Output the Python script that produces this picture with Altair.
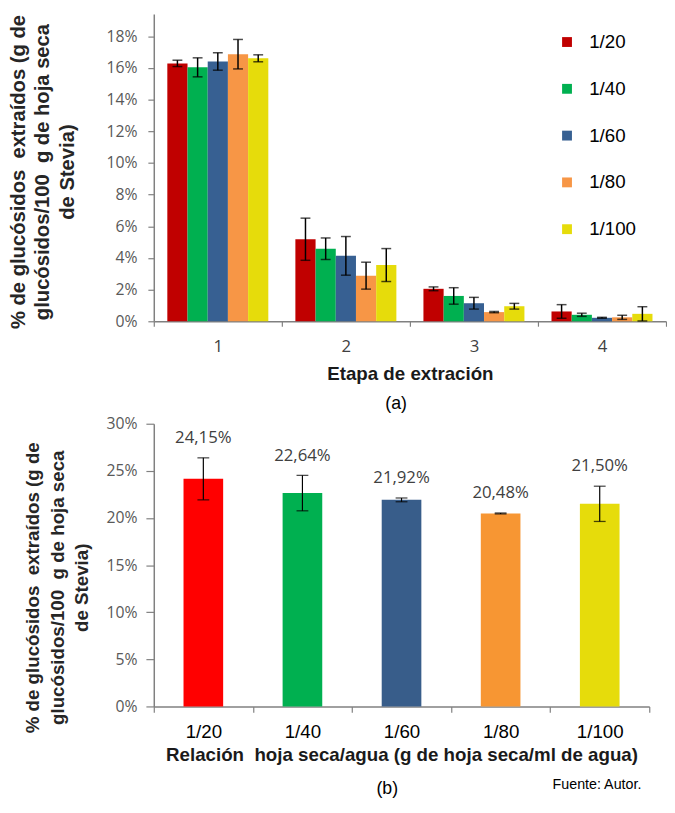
import altair as alt
import pandas as pd

# ---------------- data ----------------
etapas = ["1", "2", "3", "4"]
relaciones = ["1/20", "1/40", "1/60", "1/80", "1/100"]

# Panel (a): % de glucósidos extraídos por etapa (valores por relación)
val_1_20 = [16.28, 5.18, 2.05, 0.62]
val_1_40 = [16.03, 4.58, 1.60, 0.41]
val_1_60 = [16.40, 4.13, 1.14, 0.22]
val_1_80 = [16.86, 2.88, 0.58, 0.25]
val_1_100 = [16.60, 3.55, 0.95, 0.47]

err_1_20 = [0.20, 1.33, 0.12, 0.43]
err_1_40 = [0.60, 0.68, 0.52, 0.10]
err_1_60 = [0.55, 1.22, 0.37, 0.03]
err_1_80 = [0.93, 0.85, 0.04, 0.13]
err_1_100 = [0.22, 1.04, 0.18, 0.45]

colors_a = ["#C00000", "#00B050", "#376092", "#F79646", "#E6DC0B"]
y_ticks_a = [0, 2, 4, 6, 8, 10, 12, 14, 16, 18]

# Panel (b): total extraído por relación
totales = [24.15, 22.64, 21.92, 20.48, 21.50]
err_tot = [2.23, 1.88, 0.20, 0.05, 1.87]
colors_b = ["#FF0000", "#00B050", "#385D8A", "#F79633", "#E6DC0B"]
y_ticks_b = [0, 5, 10, 15, 20, 25, 30]

y_title = ["% de glucósidos\u00a0 extraídos (g de",
           "glucósidos/100\u00a0 g de hoja seca",
           "de Stevia)"]

# ---------------- tables ----------------
vals_a = [val_1_20, val_1_40, val_1_60, val_1_80, val_1_100]
errs_a = [err_1_20, err_1_40, err_1_60, err_1_80, err_1_100]
rows = []
for r, vs, es in zip(relaciones, vals_a, errs_a):
    for e, v, er in zip(etapas, vs, es):
        rows.append({"etapa": e, "relacion": r, "valor": v, "lo": v - er, "hi": v + er})
df_a = pd.DataFrame(rows)

df_b = pd.DataFrame({
    "proporcion": relaciones,
    "valor": totales,
    "lo": [v - e for v, e in zip(totales, err_tot)],
    "hi": [v + e for v, e in zip(totales, err_tot)],
    "etiqueta": [f"{v:.2f}".replace(".", ",") + "%" for v in totales],
})

AXC = "#808080"

# ---------------- panel (a) ----------------
W_A, H_A = 520, 312
y_a_scale = alt.Scale(domain=[0, 19.4], nice=False)

axis_x_a = alt.Axis(
    title="Etapa de extración", labelAngle=0, tickBand="extent",
    labelFont="Open Sans", labelFontSize=17, labelColor="#404040", labelPadding=13,
    titleFont="Liberation Sans", titleFontSize=19, titleFontWeight="bold",
    titleColor="#1a1a1a", titlePadding=10,
    domainColor=AXC, domainWidth=1.5, tickColor=AXC, tickSize=5, tickWidth=1.2,
)
axis_y_a = alt.Axis(
    values=y_ticks_a, labelExpr="datum.value + '%'", title=y_title,
    titleX=-127, titleY=160, titleLineHeight=24.5, titleBaseline="bottom",
    titleFont="Liberation Sans", titleFontSize=20.5, titleFontWeight="bold",
    titleColor="#262626",
    labelFont="Open Sans", labelFontSize=16, labelColor="#595959", labelPadding=11,
    domainColor=AXC, domainWidth=1.5, tickColor=AXC, tickSize=6, tickWidth=1.2,
)
legend_a = alt.Legend(
    title=None, orient="none", legendX=410, legendY=19,
    symbolType="square", symbolSize=100, symbolStrokeWidth=0,
    labelFont="Liberation Sans", labelFontSize=19, labelColor="black",
    labelOffset=13, rowPadding=27.5,
)

x_a = alt.X("etapa:N", sort=etapas, scale=alt.Scale(paddingInner=0, paddingOuter=0), axis=axis_x_a)
xo_a = alt.XOffset("relacion:N", sort=relaciones, scale=alt.Scale(paddingInner=0, paddingOuter=0.67))

bars_a = alt.Chart(df_a).mark_bar().encode(
    x=x_a, xOffset=xo_a,
    y=alt.Y("valor:Q", scale=y_a_scale, axis=axis_y_a),
    color=alt.Color("relacion:N", sort=relaciones,
                    scale=alt.Scale(domain=relaciones, range=colors_a), legend=legend_a),
)
err_a = alt.Chart(df_a).mark_rule(color="black", strokeWidth=1.5).encode(
    x=x_a, xOffset=xo_a,
    y=alt.Y("lo:Q", scale=y_a_scale, axis=axis_y_a), y2="hi:Q",
)
cap_hi_a = alt.Chart(df_a).mark_tick(color="black", size=10, thickness=1.5).encode(
    x=x_a, xOffset=xo_a, y=alt.Y("hi:Q", scale=y_a_scale, axis=axis_y_a),
)
cap_lo_a = alt.Chart(df_a).mark_tick(color="black", size=10, thickness=1.5).encode(
    x=x_a, xOffset=xo_a, y=alt.Y("lo:Q", scale=y_a_scale, axis=axis_y_a),
)
lab_a = alt.Chart(pd.DataFrame({"t": ["(a)"]})).mark_text(
    font="Liberation Sans", fontSize=18, color="black"
).encode(text="t:N", x=alt.value(246), y=alt.value(396))
inv_a = alt.Chart(pd.DataFrame({"t": [0]})).mark_rule(opacity=0).encode(
    x=alt.value(-139), x2=alt.value(-138), y=alt.value(0)
)

chart_a = alt.layer(bars_a, err_a, cap_hi_a, cap_lo_a, lab_a, inv_a).properties(
    width=W_A, height=H_A
)

# ---------------- panel (b) ----------------
W_B, H_B = 503, 287
y_b_scale = alt.Scale(domain=[0, 30], nice=False)

axis_x_b = alt.Axis(
    title="Relación\u00a0 hoja seca/agua (g de hoja seca/ml de agua)",
    labelAngle=0, tickBand="extent",
    labelFont="Liberation Sans", labelFontSize=19, labelColor="black", labelPadding=11,
    titleFont="Liberation Sans", titleFontSize=19, titleFontWeight="bold",
    titleColor="#1a1a1a", titlePadding=4,
    domainColor=AXC, domainWidth=1.5, tickColor=AXC, tickSize=6, tickWidth=1.2,
)
axis_y_b = alt.Axis(
    values=y_ticks_b, labelExpr="datum.value + '%'", title=y_title,
    titleX=-113, titleY=166, titleLineHeight=25, titleBaseline="bottom",
    titleFont="Liberation Sans", titleFontSize=19, titleFontWeight="bold",
    titleColor="#262626",
    labelFont="Open Sans", labelFontSize=16, labelColor="#595959", labelPadding=9,
    domainColor=AXC, domainWidth=1.5, tickColor=AXC, tickSize=8, tickWidth=1.2,
)

x_b = alt.X("proporcion:N", sort=relaciones, scale=alt.Scale(paddingInner=0, paddingOuter=0), axis=axis_x_b)

bars_b = alt.Chart(df_b).mark_bar(width=alt.RelativeBandSize(0.4)).encode(
    x=x_b,
    y=alt.Y("valor:Q", scale=y_b_scale, axis=axis_y_b),
    color=alt.Color("proporcion:N", sort=relaciones,
                    scale=alt.Scale(domain=relaciones, range=colors_b), legend=None),
)
err_b = alt.Chart(df_b).mark_rule(color="black", strokeWidth=1.2).encode(
    x=x_b, y=alt.Y("lo:Q", scale=y_b_scale, axis=axis_y_b), y2="hi:Q",
)
cap_hi_b = alt.Chart(df_b).mark_tick(color="black", size=12, thickness=1.3).encode(
    x=x_b, y=alt.Y("hi:Q", scale=y_b_scale, axis=axis_y_b),
)
cap_lo_b = alt.Chart(df_b).mark_tick(color="black", size=12, thickness=1.3).encode(
    x=x_b, y=alt.Y("lo:Q", scale=y_b_scale, axis=axis_y_b),
)
txt_b = alt.Chart(df_b).mark_text(
    dy=-20, font="Open Sans", fontSize=17, color="#404040", baseline="middle"
).encode(x=x_b, y=alt.Y("hi:Q", scale=y_b_scale, axis=axis_y_b), text="etiqueta:N")
lab_b = alt.Chart(pd.DataFrame({"t": ["(b)"]})).mark_text(
    font="Liberation Sans", fontSize=18, color="black"
).encode(text="t:N", x=alt.value(237), y=alt.value(371))
src_b = alt.Chart(pd.DataFrame({"t": ["Fuente: Autor."]})).mark_text(
    font="Liberation Sans", fontSize=14.5, color="black", align="right"
).encode(text="t:N", x=alt.value(495), y=alt.value(367))
inv_b = alt.Chart(pd.DataFrame({"t": [0]})).mark_rule(opacity=0).encode(
    x=alt.value(-147), x2=alt.value(-146), y=alt.value(0)
)

chart_b = alt.layer(bars_b, err_b, cap_hi_b, cap_lo_b, txt_b, lab_b, src_b, inv_b).properties(
    width=W_B, height=H_B
)

chart = alt.concat(chart_a, chart_b, columns=1, align="none", spacing=3).resolve_scale(
    color="independent"
).configure_view(stroke=None).configure_axis(grid=False).properties(padding=0)

chart.save("out.html", embed_options={"renderer": "svg", "actions": False})
